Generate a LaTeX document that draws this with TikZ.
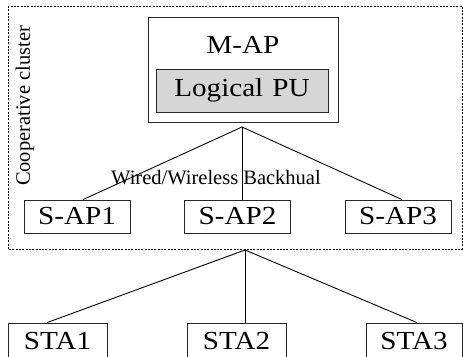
\documentclass[tikz,border=0pt]{standalone}
\usepackage{fontspec}
\setmainfont{Liberation Serif}
\newfontfamily\wideserif[FakeStretch=1.12]{Liberation Serif}
\begin{document}
\begin{tikzpicture}[x=1pt,y=-1pt,
  box/.style={draw=black!85,line width=0.8pt,rectangle,inner sep=0pt,font=\wideserif\fontsize{26}{28}\selectfont},
  link/.style={draw=black,line width=0.9pt},
  lbl/.style={font=\fontsize{20.5}{22}\selectfont,inner sep=0pt}]
\useasboundingbox (0,0) rectangle (463,356);
% cluster
\draw[line width=0.8pt,dash pattern=on 2pt off 1.3pt] (8,6) rectangle (462,249);
\node[lbl,rotate=90] (coop) at (25,106) {Cooperative cluster};
% M-AP
\node[box,minimum width=190pt,minimum height=105pt] (map) at (243,69.5) {};
\node[inner sep=0pt,font=\wideserif\fontsize{26}{28}\selectfont] (maptxt) at (243,45) {M-AP};
\node[box,fill=black!16,minimum width=172pt,minimum height=43pt] (lpu) at (242,90.5) {Logical\hspace{0.35em}PU};
\coordinate (hub1) at (242,127);
% S-APs
\node[box,minimum width=106pt,minimum height=33pt] (sap1) at (77,216.5) {S-AP1};
\node[box,minimum width=106pt,minimum height=33pt] (sap2) at (237.5,216.5) {S-AP2};
\node[box,minimum width=106pt,minimum height=33pt] (sap3) at (398,216.5) {S-AP3};
\draw[link] (hub1) -- ([xshift=6pt]sap1.north);
\draw[link] (hub1) -- ([xshift=4.5pt]sap2.north);
\draw[link] (hub1) -- ([xshift=4pt]sap3.north);
\node[lbl] (bh) at (216,178) {Wired/Wireless Backhual};
% STAs
\coordinate (hub2) at (245,250);
\node[box,minimum width=99pt,minimum height=36pt] (sta1) at (57.5,341) {ST{}A1};
\node[box,minimum width=99pt,minimum height=36pt] (sta2) at (236.5,341) {ST{}A2};
\node[box,minimum width=96pt,minimum height=36pt] (sta3) at (414,341) {ST{}A3};
\draw[link] (hub2) -- ([xshift=-10.5pt]sta1.north);
\draw[link] (hub2) -- ([xshift=8.5pt]sta2.north);
\draw[link] (hub2) -- ([xshift=3pt]sta3.north);
\end{tikzpicture}
\end{document}
